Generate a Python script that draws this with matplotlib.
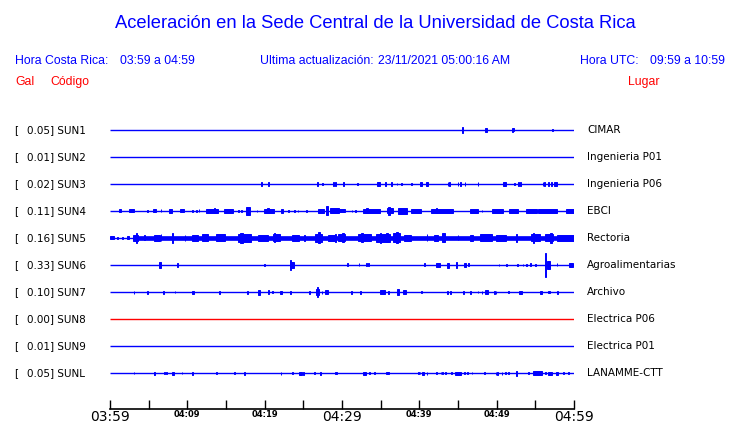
import matplotlib
matplotlib.use("Agg")
import matplotlib.pyplot as plt
from matplotlib.transforms import blended_transform_factory

# ---------------- data ----------------
codes = ["SUN1", "SUN2", "SUN3", "SUN4", "SUN5", "SUN6", "SUN7", "SUN8", "SUN9", "SUNL"]
peak_gal = ["0.05", "0.01", "0.02", "0.11", "0.16", "0.33", "0.10", "0.00", "0.01", "0.05"]
places = ["CIMAR", "Ingenieria P01", "Ingenieria P06", "EBCI", "Rectoria",
          "Agroalimentarias", "Archivo", "Electrica P06", "Electrica P01", "LANAMME-CTT"]
trace_colors = ["blue"] * 7 + ["red"] + ["blue"] * 2

tick_minutes = list(range(0, 61, 5))
tick_labels = ["03:59", "", "04:09", "", "04:19", "", "04:29", "", "04:39", "", "04:49", "", "04:59"]
big_labels = ["03:59", "04:29", "04:59"]

# events: minute after 03:59, duration (min), half amplitude (relative units)
sun1_t = [45.6, 48.6, 52.0, 52.2, 57.2]
sun1_d = [0.15, 0.3, 0.1, 0.1, 0.1]
sun1_a = [3, 1.8, 2, 1.5, 1.2]

sun2_t, sun2_d, sun2_a = [], [], []

sun3_t = [19.6, 20.5, 26.8, 27.5, 28.9, 29.2, 30.2, 32.0, 34.7, 35.6, 36.4, 37.1, 37.7, 39.0,
          40.2, 41.0, 43.7, 43.9, 45.0, 45.3, 45.9, 47.6, 50.9, 51.1, 52.3, 52.8, 53.1, 56.0,
          56.2, 56.7, 57.1, 57.6]
sun3_d = [0.1, 0.1, 0.1, 0.1, 0.1, 0.1, 0.1, 0.1, 0.3, 0.1, 0.1, 0.1, 0.1, 0.1,
          0.3, 0.3, 0.1, 0.1, 0.1, 0.1, 0.1, 0.1, 0.1, 0.3, 0.1, 0.1, 0.1, 0.1,
          0.1, 0.1, 0.1, 0.4]
sun3_a = [2, 2, 2, 1.2, 1.8, 1.8, 2, 1.2, 1.8, 2, 2, 1.2, 1.2, 1.2,
          1.8, 1.8, 1.8, 1.8, 2, 2, 2, 2, 1.8, 1.8, 1.2, 2, 2, 2,
          2, 2, 2, 1.8]

sun4_t = [1.3, 2.8, 4.8, 5.7, 6.6, 7.8, 9.3, 10.7, 11.2, 11.5, 13.2, 13.5, 15.3, 16.6, 17.0,
          17.9, 19.0, 20.6, 20.4, 22.2, 23.1, 23.9, 24.3, 25.4, 27.3, 28.1, 29.0, 30.0, 31.3,
          31.7, 33.8, 33.2, 36.2, 36.1, 37.8, 39.6, 42.9, 42.2, 47.1, 48.1, 50.1, 52.2, 54.5,
          56.6, 59.5]
sun4_d = [0.3, 0.6, 0.1, 0.4, 0.1, 0.4, 0.5, 0.1, 0.1, 0.1, 1.5, 0.2, 1.2, 0.1, 0.1,
          0.5, 0.1, 1.3, 0.2, 0.3, 0.1, 0.1, 0.1, 0.1, 0.8, 0.3, 1.2, 0.8, 0.1,
          0.1, 2.1, 0.2, 0.8, 0.2, 1.1, 1.3, 2.9, 0.2, 1.0, 0.1, 1.4, 1.1, 1.4,
          2.4, 1.0]
sun4_a = [1.5, 1.5, 1.2, 1.5, 1.5, 2, 1.5, 1.2, 1.2, 1.5, 2, 2.5, 2, 1.2, 1.2,
          4, 1.2, 1.8, 2.5, 2, 1.2, 1.2, 1.2, 1.2, 2, 4.5, 2.5, 1.5, 1.2,
          1.2, 2, 2.5, 2.5, 4, 3, 2, 2, 2.5, 2, 1.2, 2, 2, 2,
          1.8, 2]

sun5_band = [3.0, 60.0, 2.3]  # continuous noise: start, end, half amplitude
sun5_t = [0.3, 1.0, 1.6, 2.3, 3.3, 3.4, 4.5, 6.1, 6.6, 8.1, 9.7, 11.0, 12.3, 14.3, 17.4, 17.0,
          19.8, 21.5, 21.3, 24.0, 25.2, 26.9, 27.0, 28.6, 29.2, 29.9, 30.1, 32.9, 32.6, 35.3,
          35.0, 35.8, 37.0, 37.1, 38.5, 41.0, 42.2, 43.1, 45.0, 46.8, 48.6, 50.6, 52.6, 55.0,
          54.8, 56.8, 57.0, 58.9]
sun5_d = [0.5, 0.1, 0.1, 0.3, 0.7, 0.15, 0.1, 0.8, 0.1, 0.2, 0.1, 0.8, 0.8, 1.1, 1.7, 0.3,
          1.3, 0.9, 0.15, 0.9, 0.1, 0.9, 0.2, 0.9, 0.15, 0.9, 0.2, 1.7, 0.2, 1.7,
          0.2, 0.2, 0.9, 0.2, 0.9, 0.1, 0.5, 0.4, 0.1, 0.4, 1.6, 1.3, 0.1, 1.1,
          0.15, 1.0, 0.2, 2.2]
sun5_a = [1.5, 1.2, 1.2, 1.5, 3, 5, 2.5, 3, 3.5, 5, 3, 3, 3.5, 3.5, 4, 5,
          3, 3.5, 4.5, 3, 3, 4, 5.5, 3, 4, 3.5, 4.5, 3.5, 4.5, 4,
          5, 4.5, 4.5, 5.5, 3, 3.5, 3, 4.5, 2.5, 3, 3.5, 3, 4, 3.5,
          5, 3.5, 5, 3]

sun6_t = [6.5, 8.7, 20.0, 23.3, 23.5, 30.7, 32.2, 33.2, 33.4, 40.7, 42.4, 43.7, 44.8, 45.9,
          46.4, 50.3, 51.3, 52.7, 53.4, 53.9, 54.4, 55.0, 56.3, 56.7, 57.8, 59.6]
sun6_d = [0.3, 0.1, 0.1, 0.15, 0.5, 0.1, 0.1, 0.1, 0.1, 0.1, 0.5, 0.3, 0.1, 0.3,
          0.1, 0.1, 0.1, 0.1, 0.1, 0.1, 0.2, 0.1, 0.1, 0.5, 0.1, 0.6]
sun6_a = [3, 2, 1, 5, 3, 1.5, 1.5, 1.5, 1.5, 1.5, 1.8, 2.5, 3, 1.8,
          1.5, 1.2, 1.2, 1.2, 1.2, 1.2, 1.5, 1, 12, 4, 1.5, 1.8]

sun7_t = [3.1, 4.8, 6.9, 8.4, 10.7, 14.2, 17.8, 19.3, 20.5, 21.0, 22.0, 22.2, 23.3, 25.8,
          26.8, 26.8, 27.4, 28.0, 31.2, 32.4, 35.2, 36.0, 37.2, 38.1, 40.3, 43.6, 44.0,
          45.7, 46.6, 47.6, 48.1, 48.7, 49.7, 49.9, 51.5, 53.1, 55.7, 56.8, 57.9]
sun7_d = [0.1, 0.1, 0.1, 0.1, 0.2, 0.1, 0.2, 0.3, 0.2, 0.1, 0.1, 0.1, 0.1, 0.1,
          0.4, 0.1, 0.1, 0.4, 0.2, 0.2, 0.6, 0.2, 0.3, 0.4, 0.1, 0.1, 0.1,
          0.2, 0.1, 0.1, 0.1, 0.3, 0.1, 0.1, 0.1, 0.3, 0.3, 0.3, 0.1]
sun7_a = [1.5, 1.5, 1.5, 1, 1.5, 1.5, 1.5, 2.5, 1.8, 1.2, 1.5, 1.5, 1.5, 1.5,
          3, 5, 1.5, 2, 1.5, 1.5, 1.8, 1.5, 3, 2, 1.2, 1.5, 1.5,
          1.5, 1.5, 1.2, 1.5, 1.8, 1.5, 1.5, 1.2, 1.5, 1.5, 1.0, 1.5]

sun8_t, sun8_d, sun8_a = [], [], []
sun9_t, sun9_d, sun9_a = [], [], []

sunl_t = [3.1, 5.7, 5.8, 7.0, 7.3, 8.15, 9.3, 10.7, 13.8, 16.1, 17.4, 22.1, 23.6, 24.6, 25.0,
          26.4, 27.2, 29.2, 32.9, 33.6, 34.2, 35.9, 39.9, 40.1, 40.5, 41.0, 42.2, 42.8, 43.0,
          43.4, 44.2, 45.0, 45.8, 46.2, 46.8, 48.4, 49.9, 50.1, 50.7, 51.1, 51.5, 52.6, 54.1,
          55.3, 56.3, 56.9, 57.8, 58.6, 59.3]
sunl_d = [0.1, 0.1, 0.1, 0.1, 0.1, 0.35, 0.1, 0.15, 0.1, 0.1, 0.1, 0.1, 0.1, 0.4, 0.1,
          0.1, 0.1, 0.2, 0.3, 0.1, 0.1, 0.3, 0.1, 0.1, 0.2, 0.1, 0.1, 0.1, 0.1,
          0.1, 0.1, 0.9, 0.1, 0.1, 0.1, 0.1, 0.1, 0.1, 0.1, 0.1, 0.1, 0.15, 0.1,
          1.2, 0.1, 0.4, 0.15, 0.1, 0.1]
sunl_a = [1, 1.5, 1.5, 1, 1, 1.5, 1, 1.5, 1, 1, 1.5, 1.5, 1, 1.5, 1.5,
          1, 1.5, 1.2, 1.5, 1, 1, 1.2, 1, 1, 1.5, 1.5, 1, 1, 1,
          1.2, 1, 1.5, 1.2, 1, 1, 1.2, 1.5, 1.5, 1.5, 1, 1, 2.5, 1.2,
          1.8, 1, 1.5, 1.5, 1, 1]

events = [(sun1_t, sun1_d, sun1_a), (sun2_t, sun2_d, sun2_a), (sun3_t, sun3_d, sun3_a),
          (sun4_t, sun4_d, sun4_a), (sun5_t, sun5_d, sun5_a), (sun6_t, sun6_d, sun6_a),
          (sun7_t, sun7_d, sun7_a), (sun8_t, sun8_d, sun8_a), (sun9_t, sun9_d, sun9_a),
          (sunl_t, sunl_d, sunl_a)]

# ---------------- figure ----------------
W, H = 740, 423
fig = plt.figure(figsize=(W / 100, H / 100), dpi=100)
fig.patch.set_facecolor("white")

def fx(px):
    return px / W

def fy(py):
    return 1 - py / H

row0, gap = 130, 27          # pixel row of the first trace and spacing
ax_top, ax_bot = 116, 409
ax = fig.add_axes([fx(110), fy(ax_bot), fx(574) - fx(110), (ax_bot - ax_top) / H])
ax.set_xlim(0, 60)
ax.set_ylim(-(ax_bot - row0) / gap, (row0 - ax_top) / gap)
amp_scale = 1.0 / gap

for i, (ts, ds, as_) in enumerate(events):
    y = -i
    c = trace_colors[i]
    ax.plot([0, 60], [y, y], color=c, lw=1.0, solid_capstyle="butt")
    if codes[i] == "SUN5":
        s, e, a = sun5_band
        ax.bar(s, 2 * a * amp_scale, width=e - s, bottom=y - a * amp_scale, align="edge",
               color=c, edgecolor=c, linewidth=0.5)
    if ts:
        hs = [2 * a * amp_scale for a in as_]
        bs = [y - a * amp_scale for a in as_]
        ax.bar(ts, hs, width=ds, bottom=bs, color=c, edgecolor=c, linewidth=0.7)

for side in ["left", "right", "top"]:
    ax.spines[side].set_visible(False)
ax.spines["bottom"].set_linewidth(1.2)
ax.set_yticks([])
ax.set_xticks(tick_minutes)
ax.set_xticklabels(tick_labels)
ax.tick_params(axis="x", direction="in", length=6.5, width=1.0, pad=1, colors="black")
for lab in ax.get_xticklabels():
    if lab.get_text() in big_labels:
        lab.set_fontsize(10)
        lab.set_family("DejaVu Sans")
    else:
        lab.set_fontsize(6)
        lab.set_fontweight("bold")
        lab.set_family("DejaVu Sans")

# row labels
tr = blended_transform_factory(fig.transFigure, ax.transData)
for i in range(len(codes)):
    y = -i
    ax.text(fx(14), y, "[", transform=tr, ha="left", va="center", fontsize=7.5,
            family="DejaVu Sans", color="black", clip_on=False)
    ax.text(fx(27), y, f"{peak_gal[i]}] {codes[i]}", transform=tr, ha="left", va="center",
            fontsize=7.5, family="DejaVu Sans", color="black", clip_on=False)
    ax.text(fx(587), y, places[i], transform=tr, ha="left", va="center", fontsize=7.5,
            family="DejaVu Sans", color="black", clip_on=False)

# header texts
blue = "#0000ff"
red = "#ff0000"
hfont = "Liberation Sans"
hs_ = 8.8
fig.text(fx(375), fy(24), "Aceleración en la Sede Central de la Universidad de Costa Rica",
         ha="center", va="center", fontsize=13.2, family=hfont, color=blue)
fig.text(fx(15), fy(61), "Hora Costa Rica:", ha="left", va="center", fontsize=hs_, family=hfont, color=blue)
fig.text(fx(120), fy(61), "03:59 a 04:59", ha="left", va="center", fontsize=hs_, family=hfont, color=blue)
fig.text(fx(260), fy(61), "Ultima actualización:", ha="left", va="center", fontsize=hs_, family=hfont, color=blue)
fig.text(fx(378), fy(61), "23/11/2021 05:00:16 AM", ha="left", va="center", fontsize=hs_, family=hfont, color=blue)
fig.text(fx(580), fy(61), "Hora UTC:", ha="left", va="center", fontsize=hs_, family=hfont, color=blue)
fig.text(fx(725), fy(61), "09:59 a 10:59", ha="right", va="center", fontsize=hs_, family=hfont, color=blue)
fig.text(fx(15), fy(82), "Gal", ha="left", va="center", fontsize=hs_, family=hfont, color=red)
fig.text(fx(50), fy(82), "Código", ha="left", va="center", fontsize=hs_, family=hfont, color=red)
fig.text(fx(628), fy(82), "Lugar", ha="left", va="center", fontsize=hs_, family=hfont, color=red)

fig.savefig("out.png", dpi=100, facecolor="white")
